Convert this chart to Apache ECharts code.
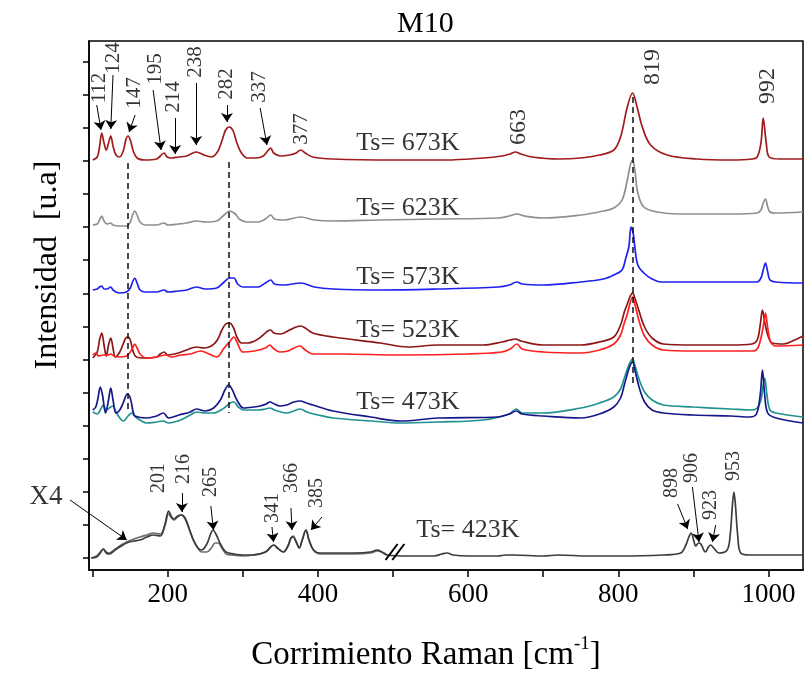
<!DOCTYPE html>
<html>
<head>
<meta charset="utf-8">
<script src="https://cdn.jsdelivr.net/npm/echarts@6/dist/echarts.min.js"></script>
<style>html,body{margin:0;padding:0;background:#fff}#c{width:807px;height:677px}</style>
</head>
<body>
<div id="c"></div>
<script>
// ---------- data (wavenumber cm^-1, intensity a.u.) ----------
const s673 = [[100,410],[106,413],[109,423],[112,437],[115,427],[118,420],[121,427],[124,434],[127,424],[131,415],[136,413],[141,420],[144,430],[147,434],[150,430],[154,419],[159,412],[170,410],[185,411],[190,414],[195,417],[199,413],[205,412],[214,413],[225,414],[238,418],[248,415],[258,413],[266,418],[272,429],[277,440],[282,443],[287,439],[292,427],[298,417],[306,412],[318,412],[327,414],[333,419],[337,422],[341,417],[350,414],[362,415],[371,417],[377,420],[383,417],[393,413],[420,411],[500,410],[570,410],[620,412],[645,414],[656,416],[663,418],[670,416],[685,413],[720,411],[750,412],[775,415],[794,420],[803,433],[812,463],[819,477],[825,463],[832,443],[843,425],[865,415],[905,411],[950,410],[978,411],[985,413],[990,427],[993,452],[997,427],[1001,413],[1015,411],[1046,411]];
const s623 = [[100,345],[106,346],[109,350],[112,354],[115,349],[119,346],[124,347],[127,345],[135,344],[145,344],[150,348],[153,355],[156,359],[159,355],[163,348],[170,345],[185,345],[195,347],[200,345],[214,346],[225,347],[238,349],[250,348],[265,349],[275,355],[282,359],[290,356],[295,351],[305,348],[320,348],[330,351],[337,355],[342,351],[355,350],[377,353],[395,350],[420,349],[483,350],[560,351],[640,352],[655,354],[665,356],[675,354],[700,352],[750,355],[780,359],[794,362],[805,370],[812,390],[816,405],[819,410],[822,400],[826,377],[834,363],[852,358],[880,356],[950,356],[985,357],[990,360],[993,367],[996,371],[999,363],[1002,358],[1008,357],[1046,358]];
const s573 = [[100,280],[106,281],[109,283],[112,284],[115,281],[119,281],[124,283],[127,280],[135,277],[145,278],[150,282],[153,288],[156,292],[159,287],[163,280],[170,278],[185,278],[195,280],[200,278],[214,279],[225,280],[238,283],[250,281],[265,282],[275,288],[282,292],[288,292],[293,286],[300,283],[320,283],[330,287],[337,290],[342,286],[355,285],[377,287],[395,283],[420,281],[483,280],[560,281],[640,283],[655,285],[665,288],[672,286],[700,285],[750,288],[780,291],[794,295],[805,300],[810,312],[814,323],[817,343],[820,336],[822,323],[826,305],[834,297],[845,291],[857,288],[900,288],[950,288],[985,288],[990,292],[993,300],[996,307],[999,298],[1002,290],[1010,288],[1046,287]];
const s523a = [[100,212],[106,218],[109,230],[112,237],[115,225],[118,214],[121,225],[124,232],[127,222],[130,213],[136,218],[141,227],[144,232],[147,233],[150,230],[154,218],[158,213],[170,212],[185,213],[190,216],[195,218],[200,215],[214,217],[225,220],[238,223],[248,222],[258,224],[266,230],[272,240],[277,246],[282,247],[287,243],[292,233],[298,227],[306,227],[318,230],[327,235],[333,239],[337,240],[341,237],[350,236],[362,240],[371,243],[377,244],[383,242],[393,237],[420,233],[483,227],[520,223],[560,225],[620,225],[645,228],[656,230],[663,231],[670,229],[700,225],[750,225],[775,228],[794,233],[803,245],[808,258],[812,266],[816,274],[819,277],[822,272],[828,258],[835,243],[845,232],[860,226],[900,225],[950,225],[978,226],[985,230],[989,245],[992,260],[995,248],[999,235],[1005,227],[1020,226],[1035,230],[1046,234]];
const s523b = [[100,215],[104,217],[108,214],[114,215],[120,215],[124,216],[128,214],[135,213],[145,214],[150,218],[153,222],[156,226],[159,222],[164,215],[172,212],[185,213],[197,215],[205,213],[217,215],[230,216],[244,219],[255,216],[265,213],[275,222],[282,228],[288,233],[292,228],[300,218],[315,219],[330,222],[336,225],[340,222],[349,218],[360,219],[376,224],[383,220],[393,216],[430,216],[510,215],[600,216],[645,218],[656,221],[665,226],[672,221],[700,218],[750,217],[775,220],[794,226],[803,235],[808,247],[812,256],[816,268],[819,273],[822,266],[828,248],[835,234],[845,225],[860,220],[900,219],[950,219],[978,219],[985,221],[990,232],[994,248],[996,257],[999,242],[1003,228],[1010,224],[1046,225]];
const s473a = [[100,160],[104,163],[107,172],[110,183],[113,175],[117,157],[121,170],[124,182],[127,170],[131,157],[136,160],[141,168],[146,176],[150,172],[155,155],[160,153],[172,152],[185,154],[194,157],[201,152],[215,155],[230,158],[238,161],[250,159],[261,162],[270,170],[276,180],[281,185],[286,180],[292,170],[301,162],[315,163],[323,164],[331,166],[336,168],[342,166],[349,164],[358,165],[368,168],[376,169],[385,167],[393,165],[420,159],[470,153],[510,149],[560,152],[640,153],[655,156],[664,159],[672,156],[700,154],[750,152],[775,156],[794,163],[803,172],[808,185],[812,196],[816,205],[819,208],[822,200],[828,182],[835,168],[845,160],[860,157],[900,155],[950,154],[975,153],[984,156],[989,175],[992,200],[995,175],[999,157],[1010,152],[1046,147]];
const s473b = [[100,158],[106,156],[110,160],[114,165],[118,160],[124,163],[127,164],[131,158],[137,151],[141,149],[147,154],[152,157],[157,153],[165,149],[172,147],[185,148],[194,149],[201,147],[217,150],[230,155],[238,158],[250,157],[261,157],[275,162],[283,167],[288,168],[294,163],[301,160],[320,160],[330,161],[336,162],[342,160],[358,157],[368,159],[376,161],[385,158],[400,155],[420,152],[470,149],[510,147],[560,148],[620,150],[655,156],[664,161],[672,157],[700,157],[750,162],[775,167],[794,173],[803,181],[808,192],[812,201],[816,208],[819,211],[822,205],[828,190],[835,178],[845,170],[860,165],[900,163],[950,161],[978,160],[985,162],[990,170],[993,185],[995,192],[998,175],[1002,160],[1010,157],[1046,153]];
const s423a = [[98,12],[105,13],[110,17],[114,21],[118,17],[122,16],[130,20],[138,24],[145,27],[155,29],[163,30],[172,33],[181,35],[190,34],[196,45],[201,59],[205,53],[208,51],[213,54],[218,55],[223,52],[229,40],[234,30],[240,22],[245,20],[252,26],[257,36],[260,40],[264,36],[270,26],[276,19],[281,17],[300,15],[314,15],[330,18],[337,23],[341,25],[346,22],[354,18],[360,24],[364,32],[367,33],[371,28],[375,22],[379,30],[384,40],[388,30],[394,20],[403,17],[448,17],[470,18],[479,20],[485,18],[492,15],[520,14],[555,14],[565,16],[572,17],[580,15],[600,14],[640,14],[650,15],[660,15],[700,14],[720,15],[760,14],[800,14],[860,15],[883,17],[890,25],[894,33],[897,37],[901,28],[903,24],[907,27],[910,26],[916,18],[920,23],[923,25],[927,22],[934,17],[945,20],[949,35],[952,65],[954,78],[956,65],[959,35],[963,17],[975,15],[1000,15],[1046,15]];
const s423b = [[98,12],[105,14],[110,18],[114,21],[118,18],[122,17],[130,21],[138,25],[145,28],[155,31],[163,33],[172,35],[181,37],[190,36],[196,44],[201,56],[205,52],[208,50],[213,53],[218,55],[223,51],[229,40],[234,30],[240,22],[245,18],[252,18],[258,22],[263,27],[267,27],[272,22],[278,16],[285,15],[300,14],[314,15],[330,18],[337,23],[341,25],[346,22],[354,18],[360,24],[364,32],[367,34],[371,28],[375,22],[379,30],[384,40],[388,30],[394,20],[403,16],[448,16],[470,17],[479,19],[485,18],[492,15]];

// tick marks / tick labels
const xTicks = [100,200,300,400,500,600,700,800,900,1000];
const xTickLabels = [200,400,600,800,1000];
const yTicks = [12,45.1,78.2,111.3,144.4,177.5,210.5,243.6,276.7,309.8,342.9,376.0,409.1,442.2,475.3,508.4];

// annotations: [text, x, y]
const topLabels = [['112',108.4,482],['124',127.7,512],['147',155.7,477],['195',183.7,501],['214',207.7,473],['238',237,508],['282',278.4,486],['337',322.4,483],['377',378.4,441]];
const mainLabels = [['663',667,443],['819',846,503],['992',999,484]];
const bottomLabels = [['201',188.4,92],['216',221,101],['265',257.7,88],['341',339.7,62],['366',365,92],['385',398.4,77],['898',871.7,87],['906',898.4,102],['923',923,65],['953',954.4,104]];
const tsLabels = [['Ts= 673K',451,427],['Ts= 623K',451,362],['Ts= 573K',451,293],['Ts= 523K',451,240],['Ts= 473K',451,168],['Ts= 423K',531,40]];
const x4Label = [['X4',37.7,73]];
// arrows: [x1,y1,x2,y2]
const arrows = [[105.3,465,111,440],[127,495,124,441],[156.4,455,148.4,438],[180.4,480,191,420],[209.7,452,209.7,416],[237.7,487,237.7,425],[278.7,465,278.7,448],[323,462,332,425],[218.7,77,218.7,58],[257.3,64,260.8,40],[338.7,43,340.8,28],[364,62,365.3,40],[405.3,53,390.7,40],[69.8,70,145.3,30],[879,66,892.4,41],[898.7,83,907.5,28],[929.7,45,925.3,28]];
const dashLines = [[147,407,147,157],[281,408,281,157],[819,473,819,187]];
const breakMarks = [[490,10,506,26],[499,10,515,26]];

// ---------- chart ----------
const FONT = "'Liberation Serif', 'Times New Roman', serif";
const chart = echarts.init(document.getElementById('c'), null, {renderer: 'canvas'});

function spec(data, color, z) {
  return {type: 'line', data: data, showSymbol: false, symbol: 'none', smooth: 0.35,
    lineStyle: {color: color, width: 1.7}, z: z || 2, silent: true};
}
function labels(arr, size, rotate, align) {
  return {type: 'scatter', symbolSize: 0, itemStyle: {color: 'rgba(0,0,0,0)'}, silent: true, clip: false, z: 5,
    data: arr.map(a => ({name: a[0], value: [a[1], a[2]]})),
    label: {show: true, position: 'inside', formatter: '{b}', rotate: rotate, align: align,
      verticalAlign: 'middle', color: '#000', fontSize: size, fontFamily: FONT}};
}
function segs(arr, style, sym) {
  return {type: 'lines', coordinateSystem: 'cartesian2d', silent: true, clip: false, z: 4,
    symbol: sym || ['none', 'none'], symbolSize: 9,
    data: arr.map(a => ({coords: [[a[0], a[1]], [a[2], a[3]]]})),
    lineStyle: style};
}

const option = {
  animation: false,
  backgroundColor: '#fff',
  title: {text: 'M10', left: 392, top: 4,
    textStyle: {fontFamily: FONT, fontSize: 30, fontWeight: 'normal', color: '#000'}},
  grid: {left: 89, right: 4, top: 41, bottom: 107, show: true, borderColor: '#000', borderWidth: 1.5, containLabel: false},
  xAxis: {type: 'value', min: 95, max: 1046,
    axisLine: {show: true, lineStyle: {color: '#000', width: 1.5}},
    axisTick: {show: true, customValues: xTicks, length: 7, lineStyle: {color: '#000', width: 1.5}},
    axisLabel: {customValues: xTickLabels, formatter: v => String(v), color: '#000', fontSize: 27, fontFamily: FONT, margin: 11},
    splitLine: {show: false}},
  yAxis: {type: 'value', min: 0, max: 529,
    axisLine: {show: true, lineStyle: {color: '#000', width: 1.5}},
    axisTick: {show: true, customValues: yTicks, length: 6, lineStyle: {color: '#000', width: 1.5}},
    axisLabel: {show: false},
    splitLine: {show: false}},
  graphic: [
    {type: 'text', x: 48, y: 265, rotation: Math.PI / 2,
      style: {text: 'Intensidad  [u.a]', fontSize: 32, fontFamily: FONT, fill: '#000', align: 'center', verticalAlign: 'middle'}},
    {type: 'text', x: 426, y: 655,
      style: {text: 'Corrimiento Raman [cm{sup|-1}]', fontSize: 33, fontFamily: FONT, fill: '#000', align: 'center', verticalAlign: 'middle',
        rich: {sup: {fontSize: 19, fontFamily: FONT, fill: '#000', padding: [0, 0, 22, 0]}}}}
  ],
  series: [
    spec(s673, '#a01c1c'),
    spec(s623, '#8f8f8f'),
    spec(s573, '#2020f2'),
    spec(s523a, '#8c1616'),
    spec(s523b, '#ff2020', 3),
    spec(s473b, '#1f9290'),
    spec(s473a, '#17178c', 3),
    spec(s423b, '#6e6e6e'),
    spec(s423a, '#3c3c3c', 3),
    segs(dashLines, {color: '#111', width: 1.5, type: [6, 4], opacity: 1}),
    segs(arrows, {color: '#000', width: 1, opacity: 1}, ['none', 'arrow']),
    segs(breakMarks, {color: '#000', width: 2, opacity: 1}),
    labels(topLabels, 21, 90, 'center'),
    labels(mainLabels, 24, 90, 'center'),
    labels(bottomLabels, 20, 90, 'center'),
    labels(tsLabels, 26, 0, 'left'),
    labels(x4Label, 27, 0, 'center')
  ]
};
chart.setOption(option);
</script>
</body>
</html>
